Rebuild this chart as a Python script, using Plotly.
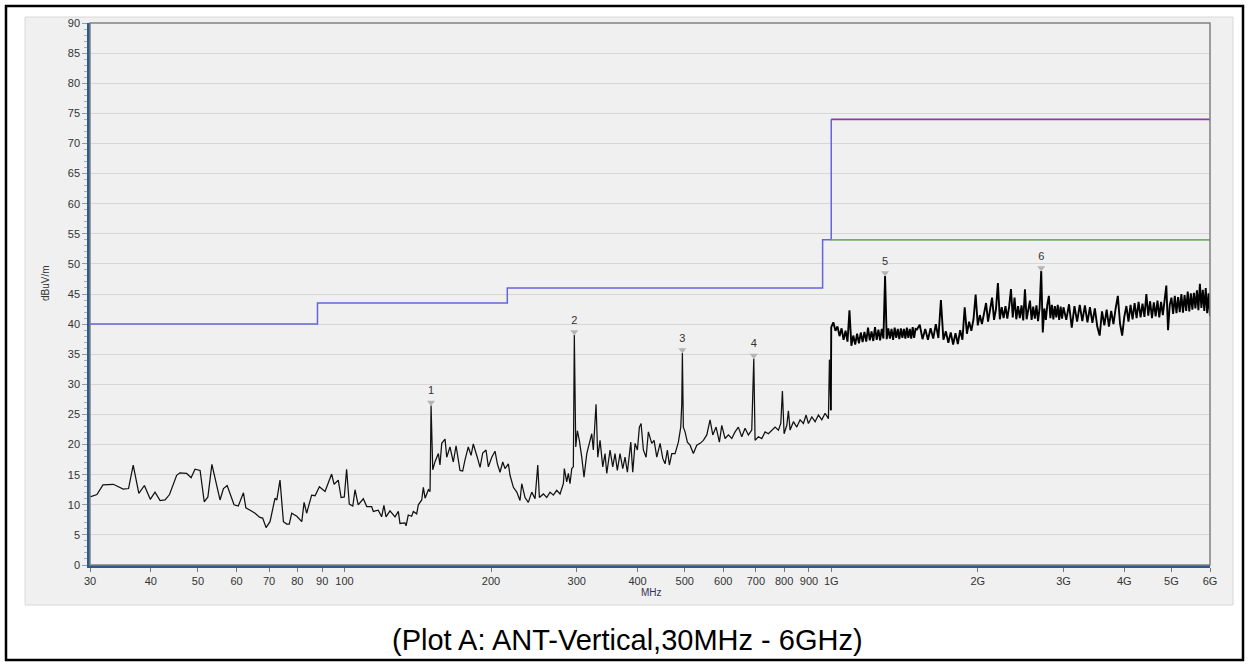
import math
import plotly.graph_objects as go

# ---------------- data ----------------
# 30 MHz - 1 GHz trace (MHz, dBuV/m)
low_freq = [
    30.0, 31.0, 31.9, 33.5, 35.1, 36.0, 36.8, 37.8, 38.8, 39.9,
    40.8, 41.8, 42.8, 43.7, 45.2, 45.9, 47.4, 48.4, 49.3, 50.5,
    51.5, 52.4, 53.4, 55.5, 56.4, 57.4, 59.3, 60.5, 62.0, 62.7,
    64.0, 65.5, 67.0, 67.9, 69.0, 70.3, 72.0, 72.6, 73.7, 74.9,
    76.1, 77.0, 77.9, 79.8, 81.7, 82.6, 83.6, 85.6, 87.0, 88.8,
    91.2, 91.9, 94.1, 95.2, 97.1, 98.4, 99.9, 101.0, 102.3, 104.0,
    105.1, 106.7, 109.3, 111.1, 113.7, 114.6, 117.3, 119.2, 120.5, 121.7,
    124.0, 127.0, 129.0, 130.0, 133.1, 133.8, 135.2, 137.4, 138.5, 140.7,
    141.8, 144.1, 145.2, 146.4, 148.7, 149.9, 150.6, 151.8, 153.5, 155.9,
    157.1, 158.4, 160.9, 162.2, 164.7, 167.3, 169.5, 172.7, 174.9, 176.8,
    179.6, 182.0, 183.9, 187.4, 189.9, 192.3, 195.3, 197.5, 200.7, 203.8,
    206.1, 208.7, 211.4, 213.7, 217.1, 218.8, 222.3, 225.9, 229.4, 231.3,
    234.9, 238.6, 242.5, 246.3, 249.5, 251.4, 256.2, 260.3, 264.4, 268.6,
    272.9, 277.2, 281.6, 282.9, 286.1, 288.3, 290.6, 293.0, 295.2, 296.6,
    298.6, 300.9, 303.7, 307.2, 310.5, 314.6, 318.0, 322.1, 324.5, 328.7,
    331.4, 335.0, 339.3, 343.0, 345.8, 351.2, 355.7, 359.6, 363.5, 368.2,
    373.0, 377.0, 381.2, 384.8, 387.4, 391.0, 395.3, 399.7, 403.5, 406.7,
    411.2, 416.5, 421.0, 427.8, 432.5, 438.1, 445.0, 450.7, 455.6, 460.6,
    465.0, 470.3, 477.7, 485.2, 490.7, 493.1, 494.5, 496.8, 500.8, 506.3,
    512.8, 520.9, 529.3, 537.7, 546.1, 555.0, 563.7, 571.0, 580.0, 589.1,
    595.8, 605.2, 614.7, 624.7, 634.4, 644.4, 654.9, 665.2, 675.7, 686.6,
    693.2, 697.4, 708.4, 719.9, 731.3, 742.8, 754.8, 766.7, 778.8, 787.7,
    793.7, 800.1, 810.4, 816.5, 823.1, 836.1, 849.6, 863.0, 876.6, 887.8,
    897.6, 912.2, 926.5, 941.1, 956.4, 971.4, 986.7, 991.4, 998.0,
]
low_level = [
    11.3, 11.7, 13.3, 13.4, 12.6, 12.7, 16.6, 11.9, 13.2, 10.9,
    12.1, 10.7, 10.8, 11.7, 14.9, 15.3, 15.2, 14.5, 15.9, 15.7,
    10.5, 11.3, 16.7, 10.8, 12.7, 13.2, 10.0, 9.8, 12.0, 9.5,
    9.1, 8.6, 7.9, 7.8, 6.2, 7.2, 11.1, 10.8, 14.1, 7.2,
    6.8, 6.8, 8.6, 8.1, 7.2, 10.4, 8.6, 11.6, 11.5, 13.0,
    12.2, 13.0, 15.1, 13.4, 14.1, 11.2, 11.3, 15.9, 10.1, 9.8,
    12.5, 10.0, 11.0, 9.7, 9.7, 8.9, 9.1, 8.0, 9.9, 8.0,
    9.0, 8.0, 8.9, 6.9, 7.0, 6.5, 8.3, 8.1, 8.9, 8.5,
    10.0, 10.8, 12.9, 11.1, 12.5, 12.2, 26.5, 15.8, 17.2, 18.5,
    16.6, 20.2, 20.9, 17.9, 19.6, 17.1, 19.8, 15.7, 15.6, 17.4,
    19.6, 18.2, 20.1, 17.9, 16.2, 18.6, 19.1, 16.3, 17.9, 18.9,
    16.8, 15.4, 17.1, 16.0, 16.8, 14.9, 12.9, 12.1, 10.7, 13.5,
    11.2, 10.4, 12.1, 11.0, 16.6, 11.2, 11.8, 11.2, 12.1, 11.6,
    12.4, 11.8, 13.5, 16.0, 13.8, 15.2, 13.5, 16.0, 16.3, 38.2,
    19.6, 22.3, 20.7, 17.9, 14.6, 18.5, 20.2, 21.8, 19.1, 26.7,
    17.9, 20.7, 16.3, 18.5, 15.2, 19.1, 16.3, 18.5, 15.7, 18.5,
    16.0, 17.9, 15.4, 17.9, 20.4, 15.4, 20.2, 19.1, 22.9, 23.5,
    19.1, 17.9, 22.1, 20.2, 20.7, 17.9, 20.2, 17.7, 16.8, 19.1,
    16.6, 18.5, 18.5, 20.4, 22.9, 26.8, 35.2, 22.9, 22.1, 20.4,
    19.9, 18.5, 19.9, 20.2, 20.7, 21.6, 24.1, 21.6, 22.9, 20.4,
    23.2, 21.0, 21.6, 21.0, 22.1, 22.9, 21.3, 22.7, 21.6, 22.4,
    34.3, 20.7, 21.3, 21.0, 22.1, 21.8, 22.4, 22.9, 22.4, 23.5,
    28.9, 21.8, 23.2, 25.6, 22.4, 23.8, 22.9, 24.1, 23.5, 24.9,
    23.5, 24.6, 23.8, 24.9, 24.1, 25.2, 24.3, 34.1, 25.7,
]

# 1 GHz - 1.5 GHz sweep (10 MHz steps)
seg_a_freq = list(range(1000, 1500, 10))
seg_a_level = [
    39.5, 40.3, 38.9, 39.6, 38.0, 39.3, 37.4, 38.9, 37.1, 42.3,
    36.4, 38.1, 36.6, 38.4, 36.8, 38.6, 37.0, 38.7, 37.1, 39.4,
    37.3, 38.8, 37.2, 39.5, 37.4, 39.1, 37.3, 39.2, 37.6, 48.0,
    37.5, 39.3, 37.6, 39.2, 37.4, 39.4, 37.7, 39.2, 37.5, 39.3,
    37.7, 39.2, 37.6, 39.4, 37.7, 39.2, 37.6, 39.5, 37.7, 39.2,
]
# 1.5 GHz - 3 GHz sweep (20 MHz steps)
seg_b_freq = list(range(1500, 3000, 20))
seg_b_level = [
    39.1, 39.9, 37.5, 39.2, 37.4, 39.3, 37.6, 40.0, 37.7, 44.0,
    37.4, 38.8, 36.9, 38.6, 36.6, 38.5, 36.7, 39.0, 37.4, 42.8,
    38.4, 40.4, 38.9, 40.8, 44.9, 39.8, 41.5, 40.0, 41.8, 43.5,
    40.4, 42.2, 44.4, 40.7, 42.5, 46.8, 40.8, 42.8, 41.0, 43.0,
    40.9, 42.9, 45.8, 41.1, 44.4, 40.8, 43.0, 41.0, 43.1, 40.6,
    45.8, 40.8, 42.8, 43.9, 40.7, 42.9, 40.9, 43.1, 40.5, 42.7,
    48.8, 38.6, 42.6, 40.7, 43.3, 44.7, 41.0, 43.2, 40.8, 43.0,
    41.1, 43.2, 40.7, 42.9, 40.9,
]
# 3 GHz - 6 GHz sweep (40 MHz steps)
seg_c_freq = list(range(3000, 6001, 40))
seg_c_level = [
    42.8, 40.7, 43.3, 39.4, 43.0, 40.4, 43.2, 40.5, 43.1, 40.3,
    42.8, 40.2, 42.6, 39.6, 38.1, 42.1, 39.8, 42.4, 39.6, 42.2,
    40.0, 42.6, 44.7, 40.1, 38.1, 41.2, 43.0, 40.4, 43.2, 40.8,
    43.5, 41.0, 43.7, 41.1, 43.4, 41.2, 45.0, 41.4, 43.8, 41.0,
    43.6, 41.3, 43.9, 41.1, 43.7, 41.5, 43.6, 46.4, 39.0, 43.2,
    44.4, 41.7, 44.7, 41.8, 44.5, 42.0, 45.0, 41.9, 44.8, 42.2,
    45.4, 42.1, 45.1, 42.4, 45.2, 42.6, 45.6, 42.3, 46.7, 42.7,
    45.7, 42.2, 46.0, 41.8, 45.1, 41.3,
]

# limit lines
qp_limit_freq = [30, 88, 216, 960, 1000]
qp_limit_level = [40, 43.5, 46, 54, 74]
peak_limit_freq = [1000, 6000]
peak_limit_level = [74, 74]
avg_limit_freq = [1000, 6000]
avg_limit_level = [54, 54]

# markers
marker_labels = ["1", "2", "3", "4", "5", "6"]
marker_freq = [150.6, 296.6, 494.5, 693.2, 1290, 2700]
marker_level = [26.5, 38.2, 35.2, 34.3, 48.0, 48.8]

x_tickvals = [30, 40, 50, 60, 70, 80, 90, 100, 200, 300, 400, 500, 600, 700,
              800, 900, 1000, 2000, 3000, 4000, 5000, 6000]
x_ticktext = ["30", "40", "50", "60", "70", "80", "90", "100", "200", "300",
              "400", "500", "600", "700", "800", "900", "1G", "2G", "3G",
              "4G", "5G", "6G"]
y_tickvals = list(range(0, 91, 5))

# ---------------- figure ----------------
W, H = 1249, 666
ML, MR, MT, MB = 90, 39, 23, 101
PW, PH = W - ML - MR, H - MT - MB


def px(x):
    return (x - ML) / PW


def py(y):
    return (H - MB - y) / PH


FONT = "Liberation Sans, Arial, sans-serif"

high_freq = [low_freq[-1]] + seg_a_freq + seg_b_freq + seg_c_freq
high_level = [low_level[-1]] + seg_a_level + seg_b_level + seg_c_level

fig = go.Figure()

fig.add_trace(go.Scatter(x=qp_limit_freq, y=qp_limit_level, mode="lines",
                         line=dict(color="#6464dc", width=1.5, shape="hv"),
                         hoverinfo="skip", showlegend=False))
fig.add_trace(go.Scatter(x=peak_limit_freq, y=peak_limit_level, mode="lines",
                         line=dict(color="#8c3c9c", width=1.8),
                         showlegend=False))
fig.add_trace(go.Scatter(x=avg_limit_freq, y=avg_limit_level, mode="lines",
                         line=dict(color="#74b06a", width=1.8),
                         showlegend=False))
fig.add_trace(go.Scatter(x=low_freq, y=low_level, mode="lines",
                         line=dict(color="#111111", width=1.25),
                         showlegend=False))
fig.add_trace(go.Scatter(x=high_freq, y=high_level, mode="lines",
                         line=dict(color="#000000", width=1.9),
                         showlegend=False))
fig.add_trace(go.Scatter(
    x=marker_freq, y=[v + 0.5 for v in marker_level], mode="markers+text",
    marker=dict(symbol="triangle-down", size=7, color="#b4b4b4"),
    text=marker_labels, textposition="top center",
    textfont=dict(family=FONT, size=11, color="#333333"),
    showlegend=False))

shapes = [
    # grey chart panel
    dict(type="rect", xref="paper", yref="paper",
         x0=px(25), x1=px(1233), y0=py(605), y1=py(17),
         fillcolor="#f0f0f0", line=dict(color="#d8d8d8", width=1),
         layer="below"),
    # outer black frame
    dict(type="rect", xref="paper", yref="paper",
         x0=px(6), x1=px(1243), y0=py(660), y1=py(6),
         line=dict(color="#000000", width=2.5), layer="below"),
    # plot border (top / right)
    dict(type="rect", xref="paper", yref="paper", x0=0, x1=1, y0=0, y1=1,
         line=dict(color="#808080", width=1.5), layer="above"),
]

annotations = [
    dict(text="MHz", xref="paper", yref="paper", x=px(651), y=py(592),
         xanchor="center", yanchor="middle",
         showarrow=False, font=dict(family=FONT, size=10, color="#333355")),
    dict(text="dBuV/m", xref="paper", yref="paper", x=px(45), y=py(283),
         xanchor="center", yanchor="middle",
         showarrow=False, textangle=-90,
         font=dict(family=FONT, size=10, color="#333333")),
    dict(text="(Plot A: ANT-Vertical,30MHz - 6GHz)", xref="paper",
         yref="paper", x=px(627), y=py(640), showarrow=False,
         xanchor="center", yanchor="middle",
         font=dict(family=FONT, size=29, color="#000000")),
]

fig.update_layout(
    width=W, height=H,
    margin=dict(l=ML, r=MR, t=MT, b=MB),
    paper_bgcolor="#ffffff", plot_bgcolor="#f0f0f0",
    font=dict(family=FONT, size=11, color="#333333"),
    shapes=shapes, annotations=annotations, showlegend=False,
)
fig.update_xaxes(
    type="log", range=[math.log10(30), math.log10(6000)],
    tickvals=x_tickvals, ticktext=x_ticktext,
    ticks="outside", ticklen=4, tickcolor="#777777", tickwidth=1,
    showgrid=False, zeroline=False,
    showline=True, linecolor="#2a5a94", linewidth=2.5,
    tickfont=dict(family=FONT, size=11, color="#333333"),
)
fig.update_yaxes(
    range=[0, 90], tickvals=y_tickvals,
    ticks="outside", ticklen=5, tickcolor="#8a9bb0", tickwidth=1,
    minor=dict(dtick=1, ticks="outside", ticklen=3, tickcolor="#9db2cc",
               showgrid=False),
    showgrid=True, gridcolor="#d6d6d6", gridwidth=1.2, zeroline=False,
    showline=True, linecolor="#2a5a94", linewidth=2.5,
    tickfont=dict(family=FONT, size=11, color="#333333"),
)

fig.write_html(
    "out.html",
    config={"displayModeBar": False},
    post_script="document.body.style.margin='0';document.body.style.overflow='hidden';",
)
